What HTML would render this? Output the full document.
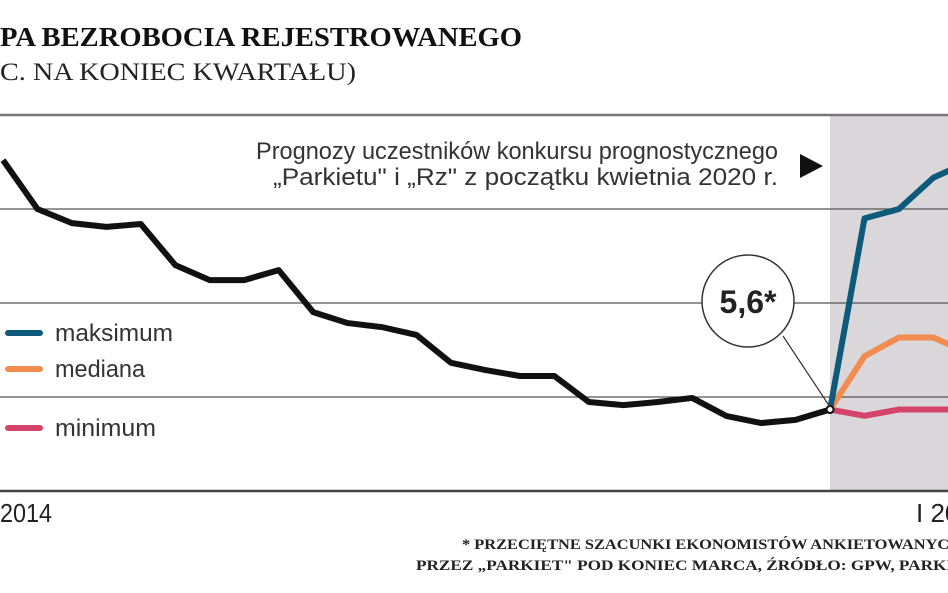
<!DOCTYPE html>
<html><head><meta charset="utf-8"><style>
html,body{margin:0;padding:0;background:#fff;width:948px;height:593px;overflow:hidden}
svg{display:block}
</style></head><body>
<svg width="948" height="593" xmlns="http://www.w3.org/2000/svg">
<text x="0" y="46" font-family="Liberation Serif, serif" font-weight="bold" font-size="27" fill="#111" textLength="522" lengthAdjust="spacingAndGlyphs">PA BEZROBOCIA REJESTROWANEGO</text>
<text x="0" y="80" font-family="Liberation Serif, serif" font-size="25" fill="#222" textLength="356" lengthAdjust="spacingAndGlyphs">C. NA KONIEC KWARTAŁU)</text>
<rect x="830" y="115" width="118" height="376" fill="#d9d7da"/>
<g id="grid"></g>
<g id="series"></g>
<text x="778" y="159" text-anchor="end" font-family="Liberation Sans Narrow, Liberation Sans, sans-serif" font-size="24" fill="#333" textLength="522" lengthAdjust="spacingAndGlyphs">Prognozy uczestników konkursu prognostycznego</text>
<text x="778" y="185" text-anchor="end" font-family="Liberation Sans Narrow, Liberation Sans, sans-serif" font-size="24" fill="#333" textLength="505" lengthAdjust="spacingAndGlyphs">„Parkietu" i „Rz" z początku kwietnia 2020 r.</text>
<polygon points="800,154 823,166 800,178" fill="#111"/>
<line x1="783" y1="336" x2="830" y2="407" stroke="#333" stroke-width="1.2"/>
<circle cx="748" cy="301" r="46" fill="#fff" stroke="#333" stroke-width="1.5"/>
<text x="748" y="313" text-anchor="middle" font-family="Liberation Sans Narrow, Liberation Sans, sans-serif" font-weight="bold" font-size="32" fill="#222">5,6*</text>
<g>
<line x1="8" y1="333" x2="40" y2="333" stroke="#0d5a7a" stroke-width="6" stroke-linecap="round"/>
<text x="55" y="341" font-family="Liberation Sans Narrow, Liberation Sans, sans-serif" font-size="24" fill="#333" textLength="118" lengthAdjust="spacingAndGlyphs">maksimum</text>
<line x1="8" y1="369" x2="40" y2="369" stroke="#f28c4e" stroke-width="6" stroke-linecap="round"/>
<text x="55" y="377" font-family="Liberation Sans Narrow, Liberation Sans, sans-serif" font-size="24" fill="#333" textLength="90" lengthAdjust="spacingAndGlyphs">mediana</text>
<line x1="8" y1="428" x2="40" y2="428" stroke="#d4436a" stroke-width="6" stroke-linecap="round"/>
<text x="55" y="436" font-family="Liberation Sans Narrow, Liberation Sans, sans-serif" font-size="24" fill="#333" textLength="101" lengthAdjust="spacingAndGlyphs">minimum</text>
</g>
<text x="0" y="522" font-family="Liberation Sans Narrow, Liberation Sans, sans-serif" font-size="26" fill="#222" textLength="52" lengthAdjust="spacingAndGlyphs">2014</text>
<text x="916" y="522" font-family="Liberation Sans Narrow, Liberation Sans, sans-serif" font-size="26" fill="#222">I 2020</text>
<text x="462" y="549" font-family="Liberation Serif, serif" font-weight="bold" font-size="15" fill="#222" textLength="500" lengthAdjust="spacingAndGlyphs">* PRZECIĘTNE SZACUNKI EKONOMISTÓW ANKIETOWANYCH</text>
<text x="416" y="570" font-family="Liberation Serif, serif" font-weight="bold" font-size="15" fill="#222" textLength="560" lengthAdjust="spacingAndGlyphs">PRZEZ „PARKIET" POD KONIEC MARCA, ŹRÓDŁO: GPW, PARKIET</text>
</svg>
<script>
const gridValues = [15, 12, 9, 6, 3];
const history = [13.56,12.0,11.55,11.43,11.52,10.21,9.73,9.73,10.05,8.71,8.36,8.23,7.98,7.09,6.86,6.67,6.67,5.84,5.74,5.84,5.97,5.39,5.17,5.27,5.6];
const maxForecast = [5.6, 11.7, 12.0, 13.0, 13.5];
const medianForecast = [5.6, 7.3, 7.9, 7.9, 7.4];
const minForecast = [5.6, 5.4, 5.6, 5.6, 5.6];
const NS = 'http://www.w3.org/2000/svg';
function xPos(i){ return 3 + i * 34.46; }
function yPos(v){ return 397 - (v - 6) * 94 / 3; }
const grid = document.getElementById('grid');
gridValues.forEach((v, i) => {
  const l = document.createElementNS(NS, 'line');
  l.setAttribute('x1', 0); l.setAttribute('x2', 948);
  l.setAttribute('y1', yPos(v)); l.setAttribute('y2', yPos(v));
  const last = i === gridValues.length - 1;
  l.setAttribute('stroke', last ? '#444' : (i === 0 ? '#777' : '#555'));
  l.setAttribute('stroke-width', last ? 2.5 : (i === 0 ? 2.5 : 1.2));
  
  
  grid.appendChild(l);
});
const series = document.getElementById('series');
function draw(vals, offset, color, w, name){
  const p = document.createElementNS(NS, 'polyline');
  p.setAttribute('points', vals.map((v, i) => xPos(i + offset) + ',' + yPos(v)).join(' '));
  p.setAttribute('fill', 'none');
  p.setAttribute('stroke', color);
  p.setAttribute('stroke-width', w);
  p.setAttribute('stroke-linejoin', 'round');
  
  
  series.appendChild(p);
}
draw(history, 0, '#111', 6, 'history-line');
draw(minForecast, history.length - 1, '#d4436a', 6, 'minimum-line');
draw(medianForecast, history.length - 1, '#f28c4e', 6, 'median-line');
draw(maxForecast, history.length - 1, '#0d5a7a', 6, 'maximum-line');
const dot = document.createElementNS(NS, 'circle');
dot.setAttribute('cx', xPos(history.length - 1));
dot.setAttribute('cy', yPos(history[history.length - 1]));
dot.setAttribute('r', 3.5);
dot.setAttribute('fill', '#fff');
dot.setAttribute('stroke', '#111');
dot.setAttribute('stroke-width', 2);


series.appendChild(dot);
</script>
</body></html>
